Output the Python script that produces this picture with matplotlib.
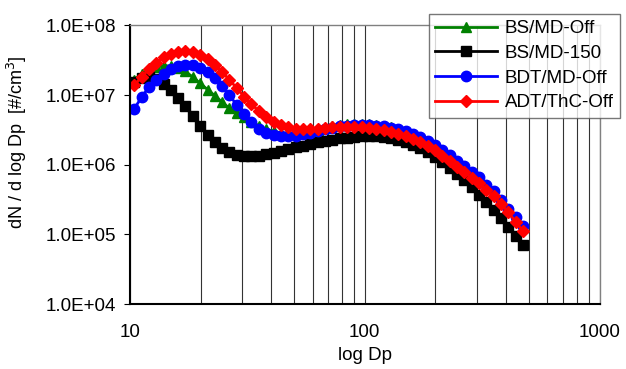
import matplotlib
matplotlib.use("Agg")
import matplotlib.pyplot as plt
from matplotlib.ticker import FuncFormatter, LogLocator, NullFormatter

plt.rcParams["font.family"] = ["Liberation Sans", "DejaVu Sans"]

# particle diameter channels [nm]
dp = [10.4, 11.2, 12.0, 12.9, 13.9, 14.9, 16.0, 17.2, 18.5, 19.9,
      21.4, 23.0, 24.7, 26.5, 28.5, 30.6, 32.9, 35.4, 38.0, 40.9,
      43.9, 47.2, 50.7, 54.5, 58.6, 62.9, 67.6, 72.7, 78.1, 83.9,
      90.2, 96.9, 104.1, 111.9, 120.3, 129.2, 138.9, 149.3, 160.4, 172.4,
      185.2, 199.0, 213.9, 229.8, 247.0, 265.4, 285.2, 306.5, 329.3, 353.9,
      380.3, 408.7, 439.2, 471.9]

bs_md_off = [1.66e7, 2.0e7, 2.29e7, 2.51e7, 2.63e7, 2.63e7, 2.45e7, 2.19e7, 1.82e7, 1.48e7,
             1.20e7, 9.8e6, 7.9e6, 6.5e6, 5.6e6, 4.9e6, 4.17e6, 3.63e6, 3.24e6, 3.02e6,
             2.88e6, 2.82e6, 2.82e6, 2.88e6, 3.02e6, 3.16e6, 3.39e6, 3.55e6, 3.72e6, 3.80e6,
             3.89e6, 3.89e6, 3.80e6, 3.72e6, 3.63e6, 3.47e6, 3.24e6, 3.02e6, 2.75e6, 2.45e6,
             2.14e6, 1.86e6, 1.58e6, 1.35e6, 1.12e6, 9.3e5, 7.8e5, 6.3e5, 5.1e5, 4.07e5,
             3.09e5, 2.29e5, 1.74e5, 1.29e5]

bs_md_150 = [1.55e7, 1.74e7, 1.82e7, 1.70e7, 1.45e7, 1.18e7, 9.1e6, 6.9e6, 5.0e6, 3.6e6,
             2.7e6, 2.1e6, 1.74e6, 1.51e6, 1.38e6, 1.32e6, 1.32e6, 1.35e6, 1.41e6, 1.48e6,
             1.58e6, 1.66e6, 1.78e6, 1.86e6, 2.0e6, 2.09e6, 2.19e6, 2.29e6, 2.40e6, 2.45e6,
             2.51e6, 2.57e6, 2.57e6, 2.57e6, 2.51e6, 2.40e6, 2.29e6, 2.14e6, 1.95e6, 1.74e6,
             1.51e6, 1.29e6, 1.10e6, 9.1e5, 7.4e5, 6.0e5, 4.8e5, 3.7e5, 2.9e5, 2.24e5,
             1.70e5, 1.29e5, 9.5e4, 7.1e4]

bdt_md_off = [6.3e6, 9.3e6, 1.29e7, 1.66e7, 2.04e7, 2.40e7, 2.63e7, 2.75e7, 2.69e7, 2.45e7,
              2.14e7, 1.74e7, 1.35e7, 1.00e7, 7.2e6, 5.4e6, 4.07e6, 3.31e6, 2.88e6, 2.69e6,
              2.57e6, 2.57e6, 2.63e6, 2.75e6, 2.88e6, 3.02e6, 3.24e6, 3.39e6, 3.55e6, 3.63e6,
              3.72e6, 3.72e6, 3.72e6, 3.63e6, 3.55e6, 3.39e6, 3.24e6, 3.02e6, 2.75e6, 2.51e6,
              2.19e6, 1.91e6, 1.62e6, 1.38e6, 1.15e6, 9.5e5, 7.9e5, 6.6e5, 5.2e5, 4.17e5,
              3.16e5, 2.34e5, 1.78e5, 1.32e5]

adt_thc_off = [1.38e7, 1.82e7, 2.34e7, 2.88e7, 3.47e7, 3.89e7, 4.17e7, 4.27e7, 4.17e7, 3.80e7,
               3.31e7, 2.69e7, 2.14e7, 1.66e7, 1.26e7, 9.5e6, 7.4e6, 5.9e6, 4.9e6, 4.17e6,
               3.72e6, 3.47e6, 3.31e6, 3.24e6, 3.24e6, 3.31e6, 3.39e6, 3.47e6, 3.47e6, 3.47e6,
               3.47e6, 3.47e6, 3.39e6, 3.31e6, 3.16e6, 2.95e6, 2.75e6, 2.57e6, 2.34e6, 2.09e6,
               1.86e6, 1.62e6, 1.35e6, 1.12e6, 9.3e5, 7.8e5, 6.5e5, 5.4e5, 4.4e5, 3.55e5,
               2.75e5, 2.09e5, 1.51e5, 1.12e5]

fig = plt.figure(figsize=(6.26, 3.69), dpi=100)
ax = fig.add_axes([0.2077, 0.176, 0.750, 0.755])

ax.plot(dp, bs_md_off, color="green", marker="^", ms=7.5, lw=2, label="BS/MD-Off")
ax.plot(dp, bs_md_150, color="black", marker="s", ms=7, lw=2, label="BS/MD-150")
ax.plot(dp, bdt_md_off, color="blue", marker="o", ms=7.5, lw=2, label="BDT/MD-Off")
ax.plot(dp, adt_thc_off, color="red", marker="D", ms=6.5, lw=2, label="ADT/ThC-Off")

ax.set_xscale("log")
ax.set_yscale("log")
ax.set_xlim(10, 1000)
ax.set_ylim(1e4, 1e8)

ax.xaxis.set_minor_locator(LogLocator(base=10, subs=range(2, 10)))
ax.xaxis.set_minor_formatter(NullFormatter())
ax.set_xticks([10, 100, 1000])
ax.set_xticklabels(["10", "100", "1000"])
ax.grid(True, axis="x", which="both", color="#333333", lw=0.8)
ax.set_axisbelow(True)

ax.yaxis.set_major_formatter(FuncFormatter(lambda v, p: f"{v:.1E}"))
ax.yaxis.set_minor_locator(plt.NullLocator())
ax.tick_params(axis="y", which="major", direction="out", length=4, labelsize=13.5, pad=6)
ax.tick_params(axis="x", which="both", length=0, labelsize=13.5, pad=14)

for side in ["left", "bottom"]:
    ax.spines[side].set_linewidth(1.5)
    ax.spines[side].set_color("black")
for side in ["top", "right"]:
    ax.spines[side].set_linewidth(1)
    ax.spines[side].set_color("#808080")

ax.set_xlabel("log Dp", fontsize=13.5, labelpad=5)
ax.set_ylabel("dN / d log Dp  [#/cm$^3$]", fontsize=13)
ax.yaxis.set_label_coords(-0.215, 0.58)

leg = fig.legend(loc="upper right", bbox_to_anchor=(0.991, 0.963), fontsize=13.5,
                 frameon=True, fancybox=False, edgecolor="#555555",
                 handlelength=3.3, handletextpad=0.4, labelspacing=0.4,
                 borderpad=0.35, borderaxespad=0)
leg.get_frame().set_linewidth(1)

plt.savefig("out.png", dpi=100)
